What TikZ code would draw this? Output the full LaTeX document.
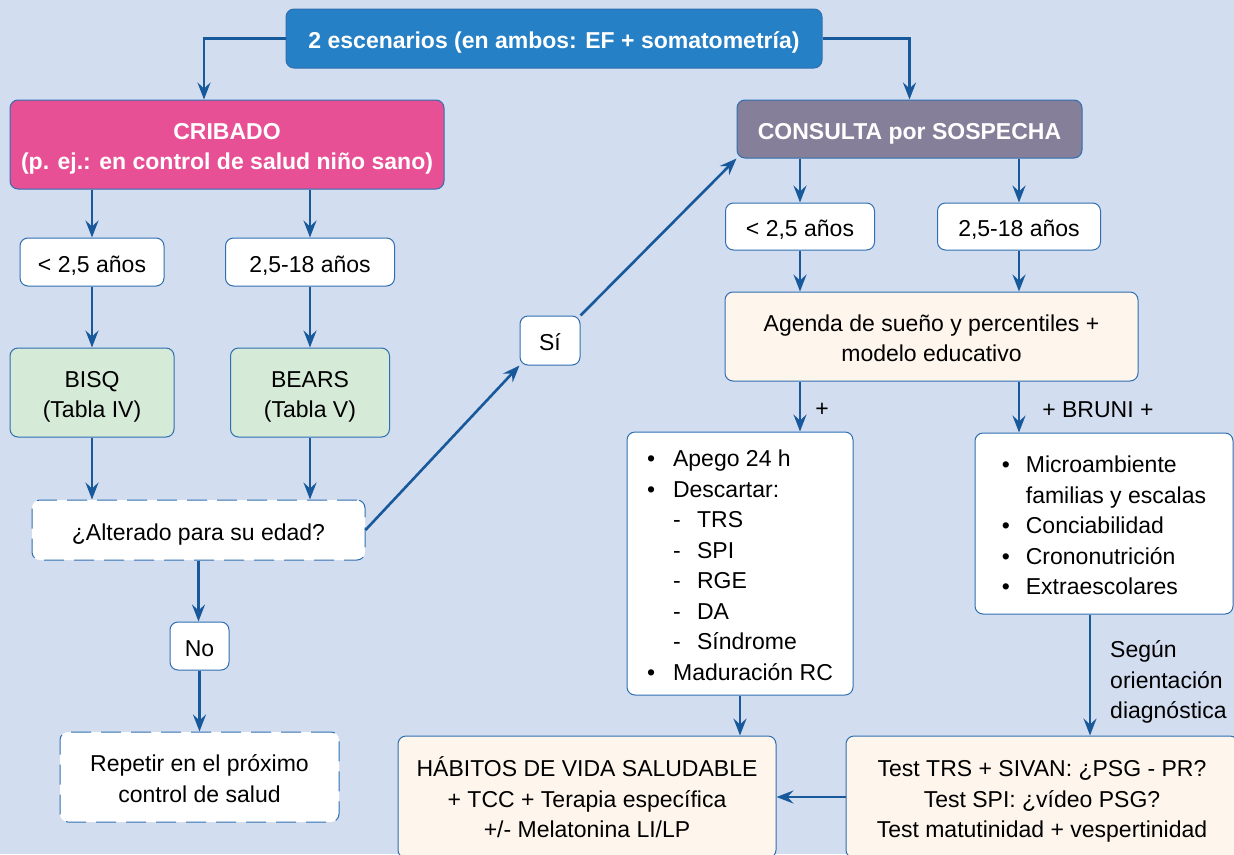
\documentclass[tikz,border=0pt]{standalone}
\usepackage{fontspec}
\setmainfont{Liberation Sans}
\usetikzlibrary{arrows.meta,calc}
\definecolor{bgc}{HTML}{D2DDF0}
\definecolor{topblue}{HTML}{2680C5}
\definecolor{pinkc}{HTML}{E85095}
\definecolor{grayc}{HTML}{857F99}
\definecolor{greenc}{HTML}{D5EAD7}
\definecolor{creamc}{HTML}{FEF5EC}
\definecolor{arrc}{HTML}{17599A}
\definecolor{bordc}{HTML}{2F6FB0}
\newcommand{\topst}{\rule[-5pt]{0pt}{30pt}}
\newcommand{\botst}{\rule[-5pt]{0pt}{5pt}}
\begin{document}
\begin{tikzpicture}[x=1pt,y=-1pt,
  font=\fontsize{23}{30.5}\selectfont,
  box/.style={draw=bordc, line width=1pt, rounded corners=8pt, inner sep=0pt, align=center},
  wbox/.style={box, fill=white},
  dbox/.style={box, fill=white, draw=bordc, dash pattern=on 20pt off 10pt},
  hbox/.style={box, text=white, font=\fontsize{23}{30.5}\selectfont\bfseries},
  arr/.style={draw=arrc, line width=2.6pt, -{Stealth[length=17pt,width=13pt,inset=6pt]}},
  lbl/.style={inner sep=0pt, anchor=west, align=left}
]
\useasboundingbox (0,0) rectangle (1234,854);
\fill[bgc] (0,0) rectangle (1234,854);

% left column
\node[hbox, fill=topblue, minimum width=536pt, minimum height=59pt] (top) at (554,38.5) {\topst 2 escenarios (en ambos: EF + somatometría)\botst};
\node[hbox, fill=pinkc, minimum width=434pt, minimum height=89pt] (crib) at (227,144.5) {\topst CRIBADO\\(p. ej.: en control de salud niño sano)\botst};
\node[hbox, fill=grayc, minimum width=345pt, minimum height=58pt] (cons) at (909.5,129) {\topst CONSULTA por SOSPECHA\botst};

\node[wbox, minimum width=144pt, minimum height=48pt] (l1) at (92,262) {\topst< 2,5 años\botst};
\node[wbox, minimum width=169pt, minimum height=48pt] (l2) at (310,262) {\topst 2,5-18 años\botst};
\node[box, fill=greenc, minimum width=164pt, minimum height=89pt] (bisq) at (92,392.5) {\topst BISQ\\(Tabla IV)\botst};
\node[box, fill=greenc, minimum width=159pt, minimum height=89pt] (bears) at (310,392.5) {\topst BEARS\\(Tabla V)\botst};
\node[dbox, minimum width=333pt, minimum height=60pt] (alt) at (198.5,530) {\topst ¿Alterado para su edad?\botst};
\node[wbox, minimum width=59pt, minimum height=48pt] (no) at (199.5,646) {\topst No\botst};
\node[dbox, minimum width=279pt, minimum height=90pt] (rep) at (199.5,777) {\topst Repetir en el próximo\\control de salud\botst};
\node[wbox, minimum width=60pt, minimum height=49pt] (si) at (550,340.5) {\topst Sí\botst};

% right column
\node[wbox, minimum width=149pt, minimum height=47pt] (r1) at (800,226.5) {\topst< 2,5 años\botst};
\node[wbox, minimum width=163pt, minimum height=47pt] (r2) at (1019,226.5) {\topst 2,5-18 años\botst};
\node[box, fill=creamc, minimum width=413pt, minimum height=89pt] (agenda) at (931.5,336.5) {\topst Agenda de sueño y percentiles +\\modelo educativo\botst};
\node[wbox, minimum width=226pt, minimum height=263pt, align=left] (apego) at (740,563.5) {%
\topst\makebox[26pt][l]{\textbullet}Apego 24 h\\
\makebox[26pt][l]{\textbullet}Descartar:\\
\makebox[26pt][l]{}\makebox[24pt][l]{-}TRS\\
\makebox[26pt][l]{}\makebox[24pt][l]{-}SPI\\
\makebox[26pt][l]{}\makebox[24pt][l]{-}RGE\\
\makebox[26pt][l]{}\makebox[24pt][l]{-}DA\\
\makebox[26pt][l]{}\makebox[24pt][l]{-}Síndrome\\
\makebox[26pt][l]{\textbullet}Maduración RC\botst};
\node[wbox, minimum width=258pt, minimum height=181pt, align=left] (bruni) at (1104,523.5) {%
\topst\makebox[24pt][l]{\textbullet}Microambiente\\
\makebox[24pt][l]{}familias y escalas\\
\makebox[24pt][l]{\textbullet}Conciabilidad\\
\makebox[24pt][l]{\textbullet}Crononutrición\\
\makebox[24pt][l]{\textbullet}Extraescolares\botst};
\node[box, fill=creamc, minimum width=378pt, minimum height=122pt] (hab) at (587,797) {\topst HÁBITOS DE VIDA SALUDABLE\\+ TCC + Terapia específica\\+/- Melatonina LI/LP\botst};
\node[box, fill=creamc, minimum width=392pt, minimum height=122pt] (test) at (1042,797) {\topst Test TRS + SIVAN: ¿PSG - PR?\\Test SPI: ¿vídeo PSG?\\Test matutinidad + vespertinidad\botst};

% connectors
\draw[arr] (top.west) -| ([xshift=-23pt]crib.north);
\draw[arr] (top.east) -| (cons.north);
\draw[arr] (crib.south -| l1.north) -- (l1.north);
\draw[arr] (crib.south -| l2.north) -- (l2.north);
\draw[arr] (l1.south) -- (l1.south |- bisq.north);
\draw[arr] (l2.south) -- (l2.south |- bears.north);
\draw[arr] (bisq.south) -- (bisq.south |- alt.north);
\draw[arr] (bears.south) -- (bears.south |- alt.north);
\draw[arr] (alt.south) -- (alt.south |- no.north);
\draw[arr] (no.south) -- (no.south |- rep.north);
\draw[arr] (alt.east) -- (si.south west);
\draw[arr] (si.north east) -- (cons.south west);

\draw[arr] (cons.south -| r1.north) -- (r1.north);
\draw[arr] (cons.south -| r2.north) -- (r2.north);
\draw[arr] (r1.south) -- (r1.south |- agenda.north);
\draw[arr] (r2.south) -- (r2.south |- agenda.north);
\draw[arr] (agenda.south -| r1.south) -- (apego.north -| r1.south) node[lbl, midway, xshift=14pt, yshift=-3pt] (plus) {+};
\draw[arr] (agenda.south -| r2.south) -- (bruni.north -| r2.south) node[lbl, midway, xshift=22pt, yshift=-3pt] (plusb) {+ BRUNI +};
\draw[arr] (apego.south) -- (apego.south |- hab.north);
\draw[arr] ([xshift=-14pt]bruni.south) -- ([xshift=-14pt]bruni.south |- test.north);
\node[lbl] (segun) at (1110,682) {Según\\orientación\\diagnóstica};
\draw[arr] (test.west) -- (hab.east);
\end{tikzpicture}
\end{document}
